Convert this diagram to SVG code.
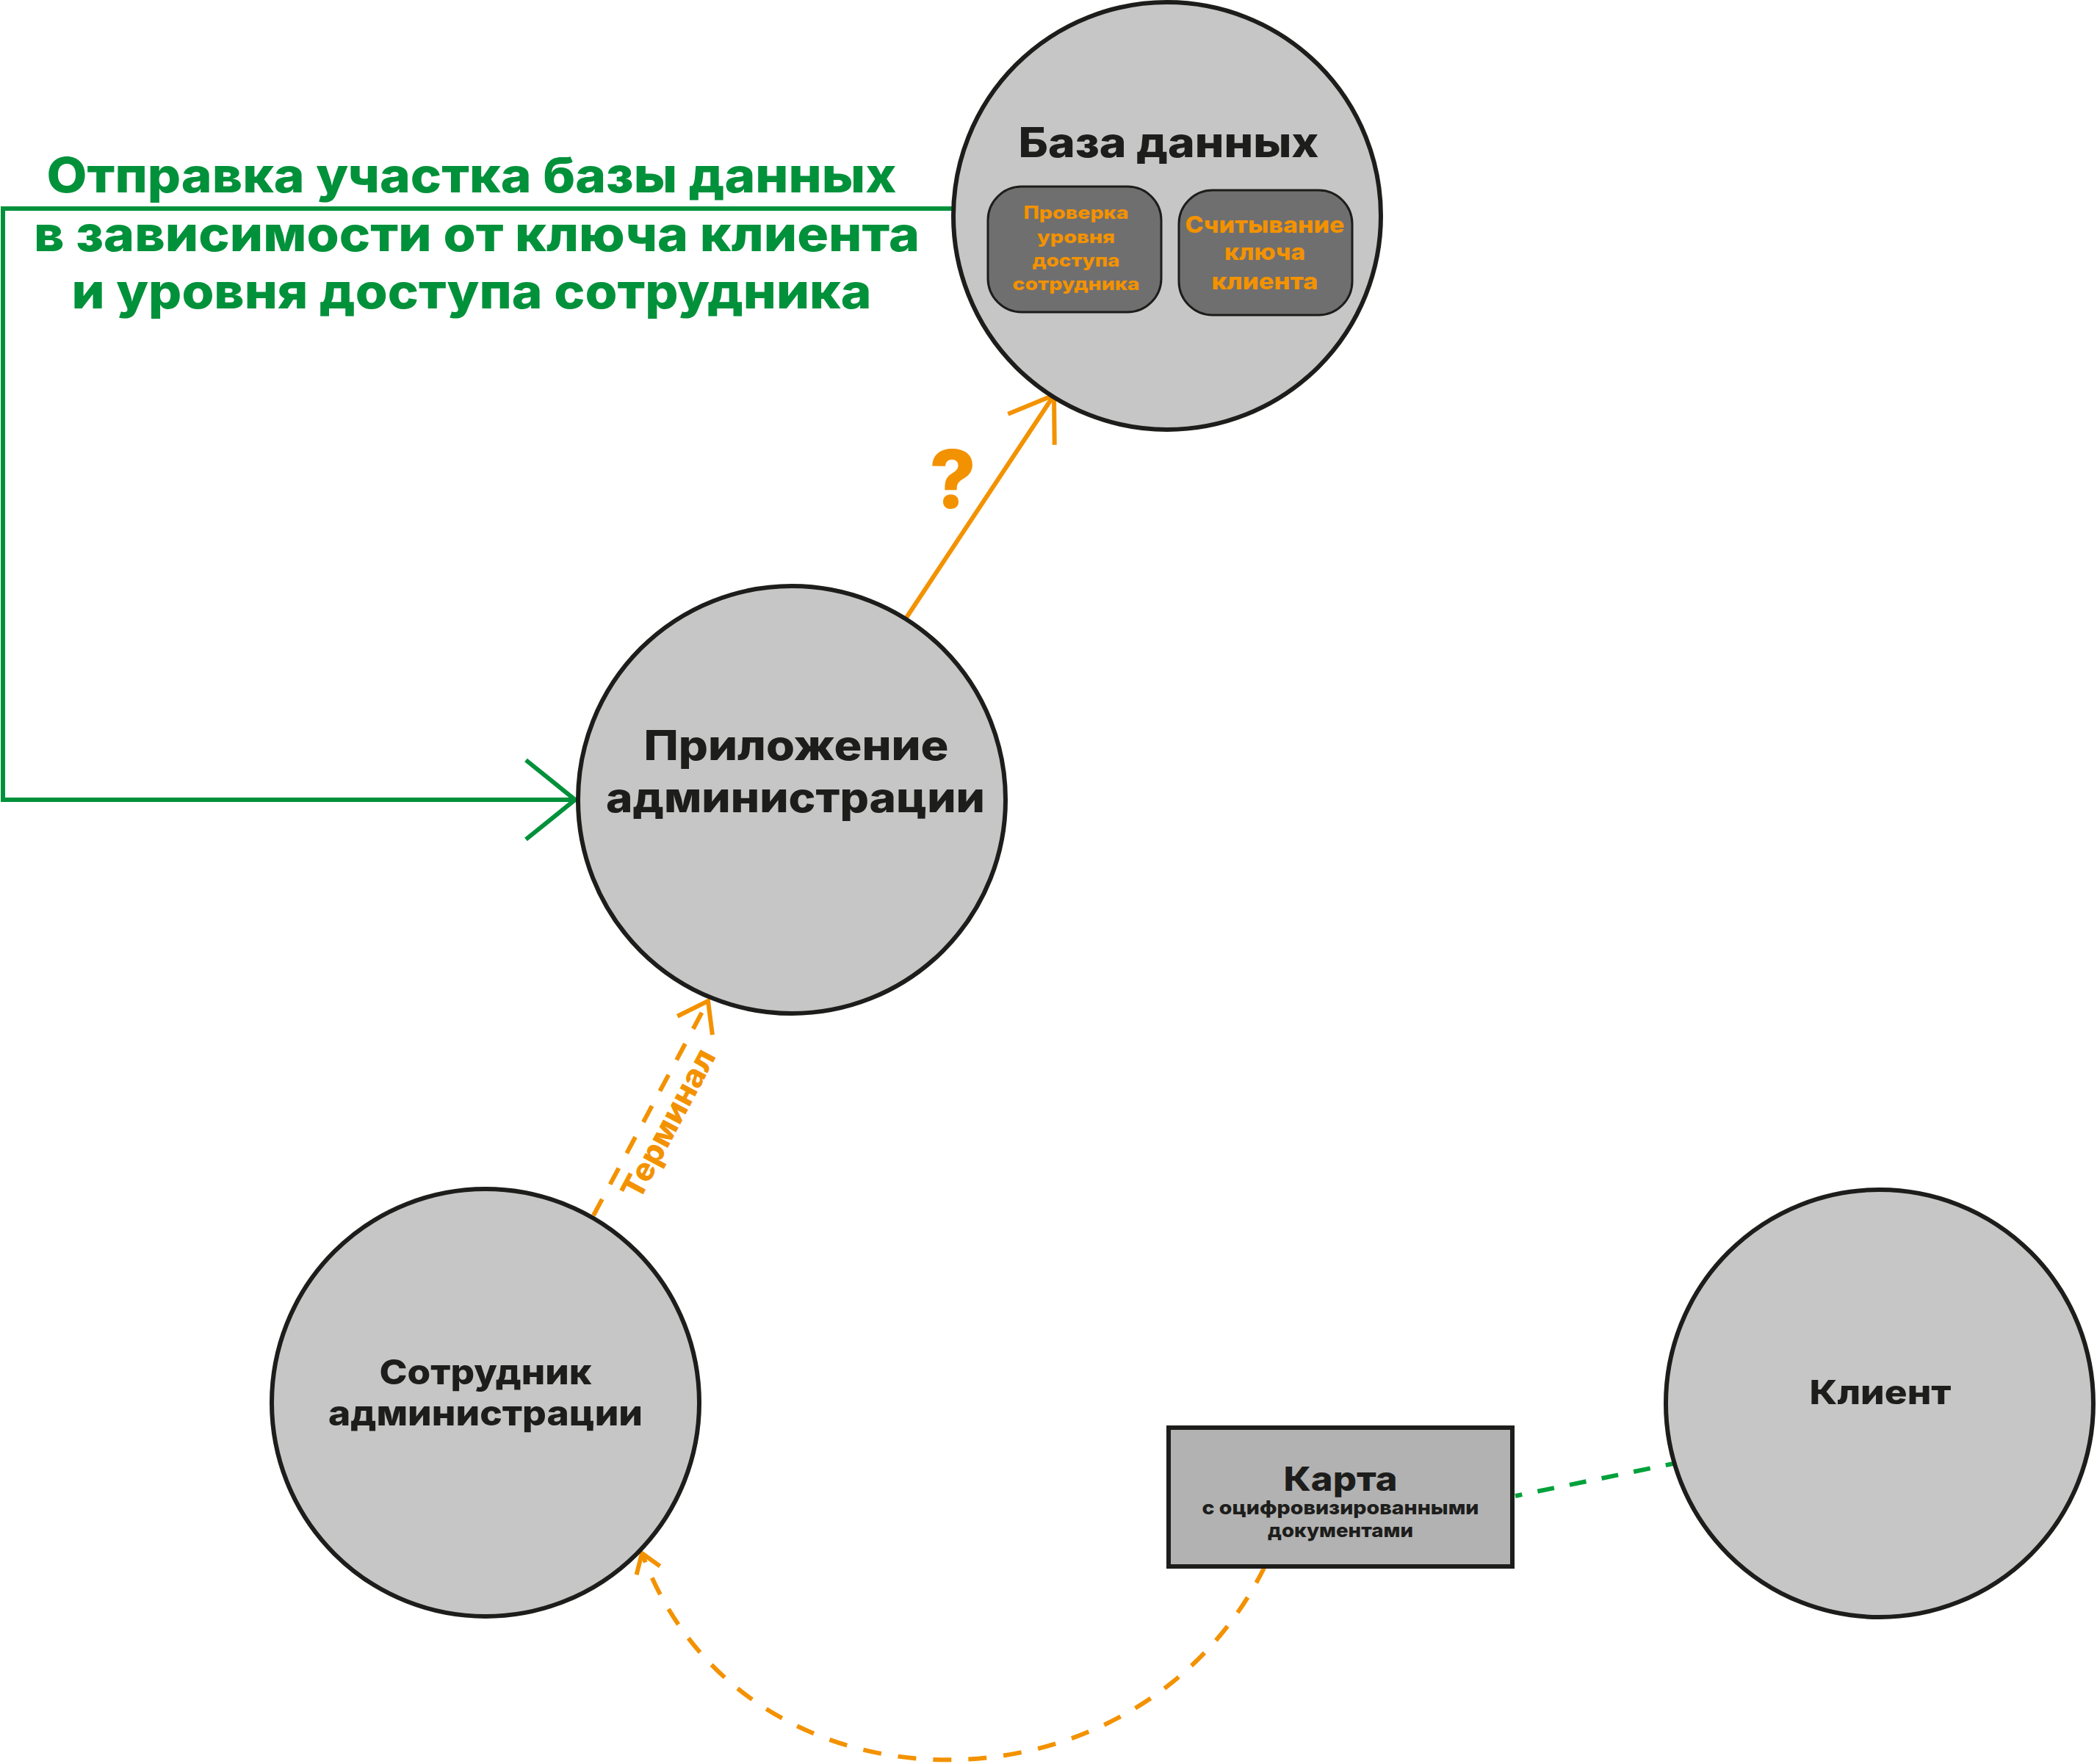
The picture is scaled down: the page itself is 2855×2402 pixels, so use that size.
<svg xmlns="http://www.w3.org/2000/svg" width="2855" height="2402" viewBox="0 0 2855 2402">
  <style>
    .node { fill: #c6c6c6; stroke: #1d1d1b; stroke-width: 6; }
    .inner { fill: #706f6f; stroke: #1d1d1b; stroke-width: 3; }
    .card { fill: #b2b2b2; stroke: #1d1d1b; stroke-width: 6; }
    .t { font-family: Inter, "Noto Sans", "Liberation Sans", sans-serif; font-weight: 800; text-anchor: middle; fill: #1d1d1b; }
    .o { fill: #f39200; }
    .g { fill: #00913a; }
    .orange { fill: none; stroke: #f39200; stroke-width: 6; }
    .dash { stroke-dasharray: 25 23; }
    .green { fill: none; stroke: #00913a; stroke-width: 6; }
    .green2 { fill: none; stroke: #00a13b; stroke-width: 6; stroke-dasharray: 23 21.5; stroke-dashoffset: 13.5; }
  </style>
  <defs>
    <marker id="arrDB" markerUnits="userSpaceOnUse" orient="auto" markerWidth="140" markerHeight="140" refX="0" refY="0" viewBox="-70 -70 140 140" overflow="visible">
      <path d="M -56 -38 L 0 0 L -56 38" fill="none" stroke="#f39200" stroke-width="6"/>
    </marker>
    <marker id="arrTerm" markerUnits="userSpaceOnUse" orient="auto" markerWidth="100" markerHeight="100" refX="0" refY="0" viewBox="-50 -50 100 100" overflow="visible">
      <path d="M -38 -27 L 0 0 L -38 27" fill="none" stroke="#f39200" stroke-width="6" stroke-dasharray="none"/>
    </marker>
    <marker id="arrCurve" markerUnits="userSpaceOnUse" orient="auto" markerWidth="80" markerHeight="80" refX="0" refY="0" viewBox="-40 -40 80 80" overflow="visible">
      <path d="M -25 -17 L 0 0 L -25 17" fill="none" stroke="#f39200" stroke-width="6" stroke-dasharray="none"/>
    </marker>
    <marker id="arrGreen" markerUnits="userSpaceOnUse" orient="auto" markerWidth="160" markerHeight="160" refX="0" refY="0" viewBox="-80 -80 160 160" overflow="visible">
      <path d="M -67 -54 L 0 0 L -67 54" fill="none" stroke="#00913a" stroke-width="6"/>
    </marker>
  </defs>

  <rect x="0" y="0" width="2855" height="2402" fill="#ffffff"/>

  <g id="connectors">
    <path id="c-green" class="green" d="M 1298 284 H 4 V 1089 H 783" marker-end="url(#arrGreen)"/>
    <path id="c-app-db" class="orange" d="M 1234 841 L 1435 538" marker-end="url(#arrDB)"/>
    <path id="c-terminal" class="orange dash" d="M 808 1655 L 964 1363" marker-end="url(#arrTerm)"/>
    <path id="c-card-emp" class="orange dash" d="M 1722 2133 C 1548 2488 1009 2486 874 2115" marker-end="url(#arrCurve)"/>
    <path id="c-card-client" class="green2" d="M 2063 2037 L 2283 1992"/>
  </g>

  <g id="labels">
    <text class="t g" font-size="66" x="642" y="262" textLength="1157" lengthAdjust="spacingAndGlyphs">Отправка участка базы данных</text>
    <text class="t g" font-size="66" x="649" y="342" textLength="1206" lengthAdjust="spacingAndGlyphs">в зависимости от ключа клиента</text>
    <text class="t g" font-size="66" x="642" y="420" textLength="1089" lengthAdjust="spacingAndGlyphs">и уровня доступа сотрудника</text>
    <text class="t o" font-size="110" x="1297" y="692">?</text>
    <text class="t o" font-size="43" font-weight="900" transform="translate(923 1537) rotate(-62)" x="0" y="0" textLength="224" lengthAdjust="spacingAndGlyphs">Терминал</text>
  </g>

  <g id="node-db">
    <circle class="node" cx="1589" cy="294" r="291"/>
    <text class="t" font-size="56" x="1591" y="214" textLength="409" lengthAdjust="spacingAndGlyphs">База данных</text>
    <g id="node-db-check">
      <rect class="inner" x="1345" y="254" width="236" height="171" rx="46" ry="46"/>
      <text class="t o" font-size="24" x="1465" y="298" textLength="143" lengthAdjust="spacingAndGlyphs">Проверка</text>
      <text class="t o" font-size="24" x="1465" y="331" textLength="106" lengthAdjust="spacingAndGlyphs">уровня</text>
      <text class="t o" font-size="24" x="1465" y="363" textLength="119" lengthAdjust="spacingAndGlyphs">доступа</text>
      <text class="t o" font-size="24" x="1465" y="395" textLength="173" lengthAdjust="spacingAndGlyphs">сотрудника</text>
    </g>
    <g id="node-db-read">
      <rect class="inner" x="1605" y="259" width="236" height="170" rx="46" ry="46"/>
      <text class="t o" font-size="31" x="1722" y="317" textLength="217" lengthAdjust="spacingAndGlyphs">Считывание</text>
      <text class="t o" font-size="31" x="1722" y="354" textLength="110" lengthAdjust="spacingAndGlyphs">ключа</text>
      <text class="t o" font-size="31" x="1722" y="394" textLength="145" lengthAdjust="spacingAndGlyphs">клиента</text>
    </g>
  </g>

  <g id="node-app">
    <circle class="node" cx="1078" cy="1089" r="291"/>
    <text class="t" font-size="56" x="1084" y="1035" textLength="415" lengthAdjust="spacingAndGlyphs">Приложение</text>
    <text class="t" font-size="56" x="1083" y="1106" textLength="516" lengthAdjust="spacingAndGlyphs">администрации</text>
  </g>

  <g id="node-employee">
    <circle class="node" cx="661" cy="1910" r="291"/>
    <text class="t" font-size="47" x="661" y="1885" textLength="289" lengthAdjust="spacingAndGlyphs">Сотрудник</text>
    <text class="t" font-size="47" x="661" y="1941" textLength="428" lengthAdjust="spacingAndGlyphs">администрации</text>
  </g>

  <g id="node-client">
    <circle class="node" cx="2559" cy="1911" r="291"/>
    <text class="t" font-size="45" x="2560" y="1912" textLength="193" lengthAdjust="spacingAndGlyphs">Клиент</text>
  </g>

  <g id="node-card">
    <rect class="card" x="1591" y="1944" width="468" height="189"/>
    <text class="t" font-size="45" x="1825" y="2030" textLength="155" lengthAdjust="spacingAndGlyphs">Карта</text>
    <text class="t" font-size="26" x="1825" y="2062" textLength="377" lengthAdjust="spacingAndGlyphs">с оцифровизированными</text>
    <text class="t" font-size="26" x="1825" y="2093" textLength="198" lengthAdjust="spacingAndGlyphs">документами</text>
  </g>
</svg>
